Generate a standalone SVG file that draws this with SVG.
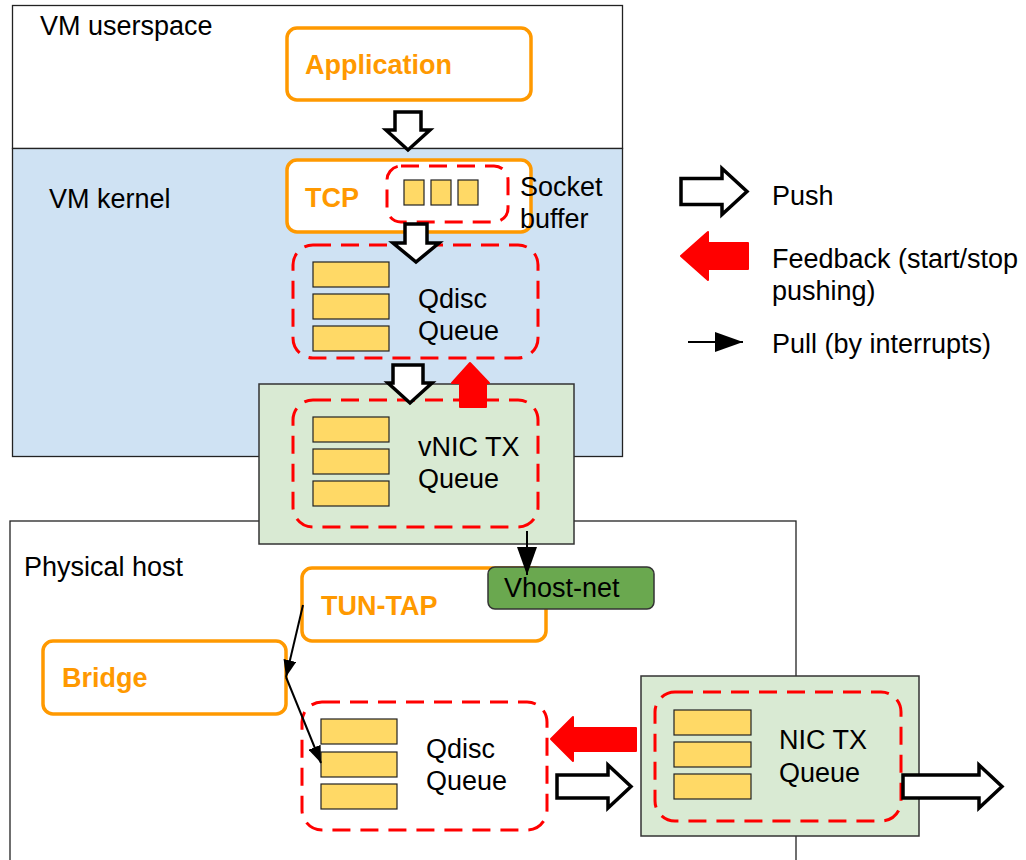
<svg xmlns="http://www.w3.org/2000/svg" width="1026" height="860" viewBox="0 0 1026 860">
<defs>
<style>
.t{font-family:"Liberation Sans",Arial,sans-serif;font-size:27px;fill:#000}
.b{font-family:"Liberation Sans",Arial,sans-serif;font-size:27px;font-weight:bold;fill:#ff9900}
.region{stroke:#222;stroke-width:1.3}
.orange{fill:#fff;stroke:#ff9900;stroke-width:3.5}
.dash{fill:none;stroke:#ff0000;stroke-width:3;stroke-dasharray:18 10}
.bar{fill:#ffd966;stroke:#222;stroke-width:1.2}
.green{fill:#d9ead3;stroke:#333;stroke-width:1.5}
.push{fill:#fff;stroke:#000;stroke-width:3.5;stroke-linejoin:miter}
.fb{fill:#ff0000;stroke:#ff0000;stroke-width:2;stroke-linejoin:round}
.pull{stroke:#000;stroke-width:2;fill:none}
</style>
<marker id="ah" markerUnits="userSpaceOnUse" markerWidth="28" markerHeight="20" refX="28" refY="10" orient="auto">
<path d="M0,0 L28,10 L0,20 z" fill="#000"/>
</marker>
<marker id="ahs" markerUnits="userSpaceOnUse" markerWidth="17" markerHeight="13" refX="17" refY="6.5" orient="auto">
<path d="M0,0 L17,6.5 L0,13 z" fill="#000"/>
</marker>
</defs>

<g id="vm-userspace">
<rect x="12.5" y="5.5" width="610" height="143" fill="#fff" class="region"/>
<text class="t" x="40" y="35">VM userspace</text>
</g>
<g id="vm-kernel">
<rect x="12.5" y="148.5" width="610" height="308" fill="#cfe2f3" class="region"/>
<text class="t" x="49" y="208">VM kernel</text>
</g>
<g id="physical-host">
<rect x="10" y="521" width="786" height="350" fill="#fff" class="region"/>
<text class="t" x="24" y="576">Physical host</text>
</g>

<g id="application">
<rect x="287" y="28" width="244" height="72" rx="10" class="orange"/>
<text class="b" x="305" y="74">Application</text>
</g>

<g id="tcp">
<rect x="287" y="160" width="244" height="72" rx="10" class="orange"/>
<text class="b" x="305" y="207">TCP</text>
</g>
<g id="socket-buffer">
<rect x="387" y="166" width="121" height="56" rx="14" class="dash"/>
<rect x="404" y="180" width="20" height="25" class="bar"/>
<rect x="431" y="180" width="20" height="25" class="bar"/>
<rect x="458" y="180" width="20" height="25" class="bar"/>
<text class="t" x="520" y="196">Socket</text>
<text class="t" x="520" y="228">buffer</text>
</g>

<g id="vm-qdisc">
<rect x="293" y="245" width="245" height="113" rx="20" class="dash"/>
<rect x="313" y="262" width="76" height="25" class="bar"/>
<rect x="313" y="294" width="76" height="25" class="bar"/>
<rect x="313" y="326" width="76" height="25" class="bar"/>
<text class="t" x="418" y="308">Qdisc</text>
<text class="t" x="418" y="340">Queue</text>
</g>

<g id="vnic">
<rect x="259" y="384" width="315" height="160" class="green"/>
<rect x="293" y="400" width="245" height="127" rx="20" class="dash"/>
<rect x="313" y="417" width="76" height="25" class="bar"/>
<rect x="313" y="449" width="76" height="25" class="bar"/>
<rect x="313" y="481" width="76" height="25" class="bar"/>
<text class="t" x="418" y="456">vNIC TX</text>
<text class="t" x="418" y="488">Queue</text>
</g>

<g id="tun-tap">
<rect x="302" y="568" width="244" height="73" rx="10" class="orange"/>
<text class="b" x="321" y="615">TUN-TAP</text>
</g>
<g id="vhost-net">
<rect x="488" y="567" width="166" height="42" rx="7" fill="#6aa84f" stroke="#333" stroke-width="1.5"/>
<text class="t" x="504" y="597">Vhost-net</text>
</g>

<g id="bridge">
<rect x="43" y="641" width="243" height="73" rx="10" class="orange"/>
<text class="b" x="62" y="687">Bridge</text>
</g>

<g id="host-qdisc">
<rect x="302" y="702" width="245" height="128" rx="20" class="dash"/>
<rect x="321" y="719" width="76" height="25" class="bar"/>
<rect x="321" y="752" width="76" height="25" class="bar"/>
<rect x="321" y="784" width="76" height="25" class="bar"/>
<text class="t" x="426" y="758">Qdisc</text>
<text class="t" x="426" y="790">Queue</text>
</g>

<g id="nic">
<rect x="641" y="676" width="278" height="160" class="green"/>
<rect x="655" y="692" width="246" height="129" rx="20" class="dash"/>
<rect x="674" y="710" width="77" height="25" class="bar"/>
<rect x="674" y="742" width="77" height="25" class="bar"/>
<rect x="674" y="774" width="77" height="25" class="bar"/>
<text class="t" x="779" y="749">NIC TX</text>
<text class="t" x="779" y="782">Queue</text>
</g>

<g id="connectors">
<polygon class="push" points="395,112 421,112 421,130 430,130 408,150 386,130 395,130"/>
<polygon class="push" points="405,224 427,224 427,243 439,243 416,262 393,243 405,243"/>
<polygon class="push" points="393,365 423,365 423,383 432,383 410,403 388,383 393,383"/>
<polygon class="fb" points="460,407 460,383 452,383 470,363 489,383 486,383 486,407"/>
<line class="pull" x1="527" y1="531" x2="527" y2="575" marker-end="url(#ah)"/>
<line class="pull" x1="303" y1="605" x2="286" y2="677" marker-end="url(#ahs)"/>
<line class="pull" x1="286" y1="677" x2="321" y2="763" marker-end="url(#ahs)"/>
<polygon class="fb" points="636,728 636,751 573,751 573,761 551,739 573,717 573,728"/>
<polygon class="push" points="557,775 608,775 608,765 631,786.5 608,808 608,798 557,798"/>
<polygon class="push" points="903,775 979,775 979,765 1002,786.5 979,808 979,798 903,798"/>
</g>

<g id="legend">
<polygon class="push" points="681,178.5 722,178.5 722,168.5 747,191.5 722,214.5 722,204.5 681,204.5"/>
<text class="t" x="772" y="205">Push</text>
<polygon class="fb" points="748,243 748,269 708,269 708,280 681,256 708,232 708,243"/>
<text class="t" x="772" y="268">Feedback (start/stop</text>
<text class="t" x="772" y="300">pushing)</text>
<line class="pull" x1="688" y1="342" x2="743" y2="342" marker-end="url(#ah)"/>
<text class="t" x="772" y="353">Pull (by interrupts)</text>
</g>
</svg>
